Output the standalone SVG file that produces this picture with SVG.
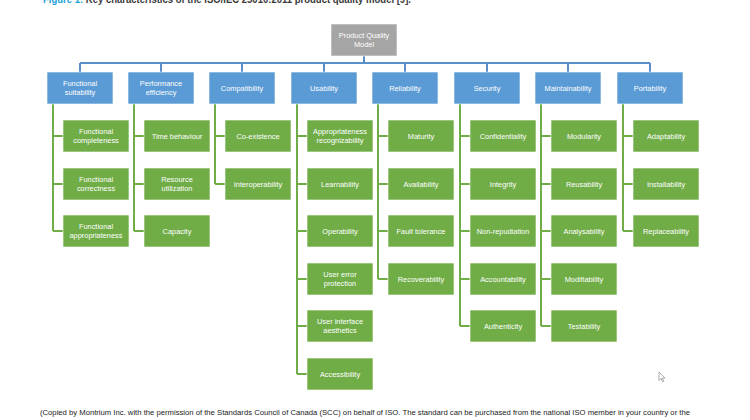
<svg xmlns="http://www.w3.org/2000/svg" width="750" height="420" viewBox="0 0 750 420">
<style>
text{font-family:"Liberation Sans","DejaVu Sans",sans-serif}
.lbl{fill:#fff;font-size:7.4px;text-anchor:middle}
.blue{fill:#5b9bd5;stroke:#ffffff;stroke-width:0.6}
.green{fill:#70ad47;stroke:#ffffff;stroke-width:0.6}
.root{fill:#a5a5a5;stroke:#ffffff;stroke-width:0.6}
.bl{fill:none;stroke:#5b8fc9;stroke-width:2}
.gl{fill:none;stroke:#70ad47;stroke-width:2}
</style>
<rect width="750" height="420" fill="#ffffff"/>
<text x="43" y="3" font-size="10.5" font-weight="bold" textLength="368" lengthAdjust="spacingAndGlyphs"><tspan fill="#1a9fd9">Figure 1: </tspan><tspan fill="#3a3a3a">Key characteristics of the ISO/IEC 25010:2011 product quality model [9].</tspan></text>

<g id="connectors">
<path class="bl" d="M364 56V63M80 63H650M80 63V72M161 63V72M242 63V72M324 63V72M405 63V72M487 63V72M568 63V72M650 63V72"/>
<path class="gl" d="M53 104V231M53 136H63M53 184H63M53 231H63"/>
<path class="gl" d="M134 104V231M134 136H144M134 184H144M134 231H144"/>
<path class="gl" d="M215 104V184M215 136H225M215 184H225"/>
<path class="gl" d="M297 104V374M297 136H307M297 184H307M297 231H307M297 279H307M297 326H307M297 374H307"/>
<path class="gl" d="M378 104V279M378 136H388M378 184H388M378 231H388M378 279H388"/>
<path class="gl" d="M460 104V326M460 136H470M460 184H470M460 231H470M460 279H470M460 326H470"/>
<path class="gl" d="M541 104V326M541 136H551M541 184H551M541 231H551M541 279H551M541 326H551"/>
<path class="gl" d="M623 104V231M623 136H633M623 184H633M623 231H633"/>
</g>

<g id="root"><rect class="root" x="331" y="24" width="66" height="32"/><text class="lbl" x="364" y="38">Product Quality</text><text class="lbl" x="364" y="47">Model</text></g>

<g id="functional-suitability"><rect class="blue" x="47" y="72" width="66" height="32"/><text class="lbl" x="80" y="86">Functional</text><text class="lbl" x="80" y="95">suitability</text></g>
<g id="performance-efficiency"><rect class="blue" x="128" y="72" width="66" height="32"/><text class="lbl" x="161" y="86">Performance</text><text class="lbl" x="161" y="95">efficiency</text></g>
<g id="compatibility"><rect class="blue" x="209" y="72" width="66" height="32"/><text class="lbl" x="242" y="90.5">Compatibility</text></g>
<g id="usability"><rect class="blue" x="291" y="72" width="66" height="32"/><text class="lbl" x="324" y="90.5">Usability</text></g>
<g id="reliability"><rect class="blue" x="372" y="72" width="66" height="32"/><text class="lbl" x="405" y="90.5">Reliability</text></g>
<g id="security"><rect class="blue" x="454" y="72" width="66" height="32"/><text class="lbl" x="487" y="90.5">Security</text></g>
<g id="maintainability"><rect class="blue" x="535" y="72" width="66" height="32"/><text class="lbl" x="568" y="90.5">Maintainability</text></g>
<g id="portability"><rect class="blue" x="617" y="72" width="66" height="32"/><text class="lbl" x="650" y="90.5">Portability</text></g>

<g id="functional-completeness"><rect class="green" x="63" y="120" width="66" height="32"/><text class="lbl" x="96" y="134">Functional</text><text class="lbl" x="96" y="143">completeness</text></g>
<g id="functional-correctness"><rect class="green" x="63" y="168" width="66" height="32"/><text class="lbl" x="96" y="182">Functional</text><text class="lbl" x="96" y="191">correctness</text></g>
<g id="functional-appropriateness"><rect class="green" x="63" y="215" width="66" height="32"/><text class="lbl" x="96" y="229">Functional</text><text class="lbl" x="96" y="238">appropriateness</text></g>

<g id="time-behaviour"><rect class="green" x="144" y="120" width="66" height="32"/><text class="lbl" x="177" y="138.5">Time behaviour</text></g>
<g id="resource-utilization"><rect class="green" x="144" y="168" width="66" height="32"/><text class="lbl" x="177" y="182">Resource</text><text class="lbl" x="177" y="191">utilization</text></g>
<g id="capacity"><rect class="green" x="144" y="215" width="66" height="32"/><text class="lbl" x="177" y="233.5">Capacity</text></g>

<g id="co-existence"><rect class="green" x="225" y="120" width="66" height="32"/><text class="lbl" x="258" y="138.5">Co-existence</text></g>
<g id="interoperability"><rect class="green" x="225" y="168" width="66" height="32"/><text class="lbl" x="258" y="186.5">Interoperability</text></g>

<g id="appropriateness-recognizability"><rect class="green" x="307" y="120" width="66" height="32"/><text class="lbl" x="340" y="134">Appropriateness</text><text class="lbl" x="340" y="143">recognizability</text></g>
<g id="learnability"><rect class="green" x="307" y="168" width="66" height="32"/><text class="lbl" x="340" y="186.5">Learnability</text></g>
<g id="operability"><rect class="green" x="307" y="215" width="66" height="32"/><text class="lbl" x="340" y="233.5">Operability</text></g>
<g id="user-error-protection"><rect class="green" x="307" y="263" width="66" height="32"/><text class="lbl" x="340" y="277">User error</text><text class="lbl" x="340" y="286">protection</text></g>
<g id="user-interface-aesthetics"><rect class="green" x="307" y="310" width="66" height="32"/><text class="lbl" x="340" y="324">User interface</text><text class="lbl" x="340" y="333">aesthetics</text></g>
<g id="accessibility"><rect class="green" x="307" y="358" width="66" height="32"/><text class="lbl" x="340" y="376.5">Accessibility</text></g>

<g id="maturity"><rect class="green" x="388" y="120" width="66" height="32"/><text class="lbl" x="421" y="138.5">Maturity</text></g>
<g id="availability"><rect class="green" x="388" y="168" width="66" height="32"/><text class="lbl" x="421" y="186.5">Availability</text></g>
<g id="fault-tolerance"><rect class="green" x="388" y="215" width="66" height="32"/><text class="lbl" x="421" y="233.5">Fault tolerance</text></g>
<g id="recoverability"><rect class="green" x="388" y="263" width="66" height="32"/><text class="lbl" x="421" y="281.5">Recoverability</text></g>

<g id="confidentiality"><rect class="green" x="470" y="120" width="66" height="32"/><text class="lbl" x="503" y="138.5">Confidentiality</text></g>
<g id="integrity"><rect class="green" x="470" y="168" width="66" height="32"/><text class="lbl" x="503" y="186.5">Integrity</text></g>
<g id="non-repudiation"><rect class="green" x="470" y="215" width="66" height="32"/><text class="lbl" x="503" y="233.5">Non-repudiation</text></g>
<g id="accountability"><rect class="green" x="470" y="263" width="66" height="32"/><text class="lbl" x="503" y="281.5">Accountability</text></g>
<g id="authenticity"><rect class="green" x="470" y="310" width="66" height="32"/><text class="lbl" x="503" y="328.5">Authenticity</text></g>

<g id="modularity"><rect class="green" x="551" y="120" width="66" height="32"/><text class="lbl" x="584" y="138.5">Modularity</text></g>
<g id="reusability"><rect class="green" x="551" y="168" width="66" height="32"/><text class="lbl" x="584" y="186.5">Reusability</text></g>
<g id="analysability"><rect class="green" x="551" y="215" width="66" height="32"/><text class="lbl" x="584" y="233.5">Analysability</text></g>
<g id="modifiability"><rect class="green" x="551" y="263" width="66" height="32"/><text class="lbl" x="584" y="281.5">Modifiability</text></g>
<g id="testability"><rect class="green" x="551" y="310" width="66" height="32"/><text class="lbl" x="584" y="328.5">Testability</text></g>

<g id="adaptability"><rect class="green" x="633" y="120" width="66" height="32"/><text class="lbl" x="666" y="138.5">Adaptability</text></g>
<g id="installability"><rect class="green" x="633" y="168" width="66" height="32"/><text class="lbl" x="666" y="186.5">Installability</text></g>
<g id="replaceability"><rect class="green" x="633" y="215" width="66" height="32"/><text class="lbl" x="666" y="233.5">Replaceability</text></g>

<path d="M659 372V380.5L661 378.5L662.6 381.8L663.8 381.2L662.3 378H665Z" fill="#ffffff" stroke="#8a8a8a" stroke-width="0.7"/>

<text x="40" y="415" font-size="8" fill="#222" textLength="650" lengthAdjust="spacingAndGlyphs">(Copied by Montrium Inc. with the permission of the Standards Council of Canada (SCC) on behalf of ISO. The standard can be purchased from the national ISO member in your country or the</text>
</svg>
